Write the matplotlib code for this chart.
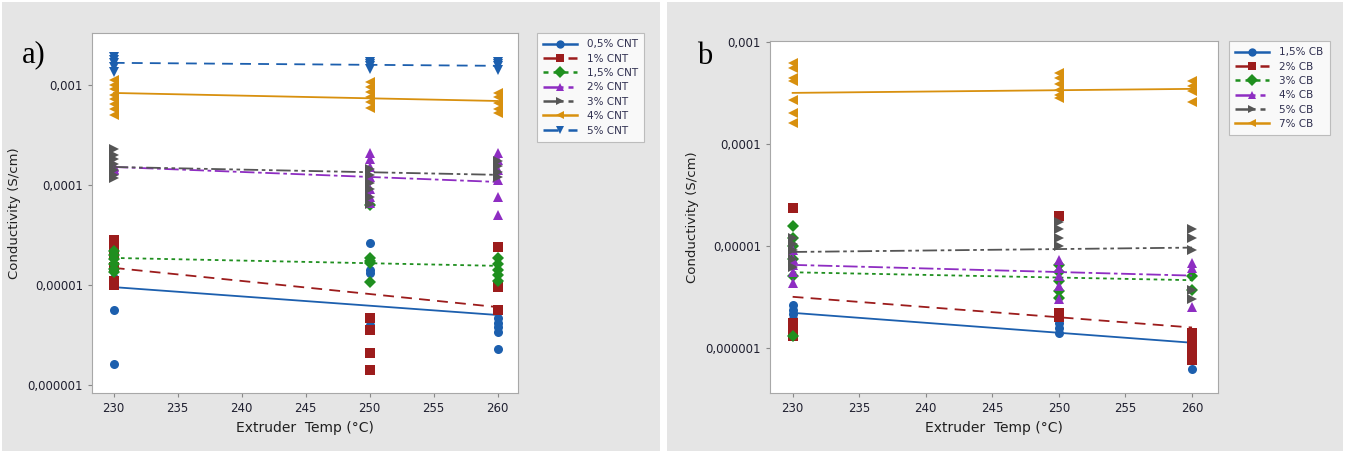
import matplotlib
matplotlib.use("Agg")
from matplotlib import pyplot as plt
from matplotlib.lines import Line2D
from matplotlib.patches import Rectangle
from matplotlib.ticker import FixedLocator, FixedFormatter

temps = [230, 250, 260]
xticks = [230, 235, 240, 245, 250, 255, 260]
yticks = [1e-6, 1e-5, 1e-4, 1e-3]
ytick_labels = ["0,000001", "0,00001", "0,0001", "0,001"]

# panel a: CNT, points per temperature (230, 250, 260) and fit line ends
cnt_labels = ["0,5% CNT", "1% CNT", "1,5% CNT", "2% CNT", "3% CNT", "4% CNT", "5% CNT"]
cnt_05 = [[1.4e-5, 1.17e-5, 1.0e-5, 5.6e-6, 1.6e-6], [2.6e-5, 1.4e-5, 1.3e-5, 4.0e-6],
          [4.7e-6, 4.2e-6, 3.8e-6, 3.4e-6, 2.3e-6]]
cnt_1 = [[2.8e-5, 2.4e-5, 2.0e-5, 1.5e-5, 1.1e-5, 1.0e-5], [4.7e-6, 3.5e-6, 2.1e-6, 1.4e-6],
         [2.4e-5, 9.5e-6, 5.6e-6]]
cnt_15 = [[2.2e-5, 2.0e-5, 1.8e-5, 1.6e-5, 1.45e-5, 1.35e-5], [6.3e-5, 1.85e-5, 1.75e-5, 1.65e-5, 1.07e-5],
          [1.85e-5, 1.6e-5, 1.4e-5, 1.25e-5, 1.1e-5]]
cnt_2 = [[1.55e-4, 1.5e-4, 1.45e-4, 1.4e-4], [2.1e-4, 1.8e-4, 1.5e-4, 1.2e-4, 9e-5, 7.5e-5, 6.6e-5],
         [2.1e-4, 1.78e-4, 1.41e-4, 1.12e-4, 7.6e-5, 5.0e-5]]
cnt_3 = [[2.3e-4, 2.0e-4, 1.8e-4, 1.6e-4, 1.4e-4, 1.25e-4, 1.17e-4], [1.45e-4, 1.25e-4, 1.05e-4, 9e-5, 7.5e-5, 6.5e-5],
         [1.75e-4, 1.55e-4, 1.35e-4, 1.2e-4]]
cnt_4 = [[1.12e-3, 1.0e-3, 9.0e-4, 8.0e-4, 7.2e-4, 6.5e-4, 5.8e-4, 5.0e-4],
         [1.07e-3, 9.5e-4, 8.5e-4, 7.5e-4, 6.7e-4, 5.9e-4], [8.3e-4, 7.5e-4, 6.6e-4, 5.8e-4, 5.2e-4]]
cnt_5 = [[1.91e-3, 1.78e-3, 1.66e-3, 1.51e-3, 1.35e-3], [1.70e-3, 1.62e-3, 1.55e-3, 1.45e-3],
         [1.70e-3, 1.62e-3, 1.55e-3, 1.42e-3]]
cnt_fit = [(9.5e-6, 5.0e-6), (1.48e-5, 6.0e-6), (1.86e-5, 1.55e-5), (1.51e-4, 1.07e-4),
           (1.51e-4, 1.26e-4), (8.3e-4, 6.9e-4), (1.66e-3, 1.55e-3)]

# panel b: CB
cb_labels = ["1,5% CB", "2% CB", "3% CB", "4% CB", "5% CB", "7% CB"]
cb_15 = [[2.6e-6, 2.35e-6, 2.15e-6, 1.9e-6], [1.75e-6, 1.55e-6, 1.4e-6], [1.2e-6, 1.0e-6, 8.5e-7, 6.2e-7]]
cb_2 = [[2.35e-5, 1.75e-6, 1.5e-6, 1.3e-6], [1.97e-5, 2.2e-6, 2.0e-6], [1.4e-6, 1.2e-6, 1.0e-6, 9e-7, 7.6e-7]]
cb_3 = [[1.58e-5, 1.2e-5, 1.0e-5, 7.5e-6, 5.0e-6, 1.3e-6], [6.5e-6, 5.5e-6, 4.5e-6, 3.6e-6, 3.1e-6],
        [5.0e-6, 3.7e-6]]
cb_4 = [[9e-6, 7.5e-6, 6.5e-6, 5.5e-6, 4.3e-6], [7.3e-6, 6e-6, 5e-6, 4e-6, 3e-6], [6.8e-6, 6.0e-6, 2.5e-6]]
cb_5 = [[1.2e-5, 1.05e-5, 9e-6, 7.5e-6, 6.2e-6], [1.7e-5, 1.45e-5, 1.2e-5, 1.0e-5],
        [1.45e-5, 1.2e-5, 9e-6, 3.7e-6, 3.0e-6]]
cb_7 = [[6.2e-4, 5.6e-4, 4.4e-4, 4.1e-4, 2.7e-4, 2.0e-4, 1.6e-4], [4.9e-4, 4.4e-4, 3.9e-4, 3.4e-4, 3.0e-4, 2.8e-4],
        [4.1e-4, 3.7e-4, 3.3e-4, 2.6e-4]]
cb_fit = [(2.2e-6, 1.12e-6), (3.16e-6, 1.58e-6), (5.5e-6, 4.6e-6), (6.5e-6, 5.1e-6),
          (8.7e-6, 9.6e-6), (3.16e-4, 3.46e-4)]

blue = "#1c5fae"
red = "#9c1c1c"
green = "#1f8f1f"
purple = "#8e2dc2"
grey = "#555555"
orange = "#d8900e"

cnt_styles = [(blue, "o", "-"), (red, "s", (0, (6, 4))), (green, "D", (0, (2, 2))),
              (purple, "^", (0, (8, 2, 2, 2))), (grey, ">", (0, (8, 2, 2, 2, 2, 2))),
              (orange, "<", "-"), (blue, "v", (0, (6, 4)))]
cb_styles = cnt_styles[:6]

W, H = 1345, 453
fig = plt.figure(figsize=(W / 100, H / 100), dpi=100)
fig.patch.set_facecolor("white")
fig.add_artist(Rectangle((2 / W, 2 / H), 658 / W, 449 / H, transform=fig.transFigure,
                         facecolor="#e5e5e5", edgecolor="none", zorder=-10))
fig.add_artist(Rectangle((667 / W, 2 / H), 676 / W, 449 / H, transform=fig.transFigure,
                         facecolor="#e5e5e5", edgecolor="none", zorder=-10))


def draw_panel(ax, series, fits, styles, labels, xlim, ylim, leg_xy):
    for pts, fit, (c, m, ls) in zip(series, fits, styles):
        for t, vals in zip(temps, pts):
            ax.plot([t] * len(vals), vals, linestyle="none", marker=m, color=c,
                    markersize=6.5, markeredgewidth=0)
        ax.plot([temps[0], temps[-1]], fit, color=c, linestyle=ls, linewidth=1.3)
    ax.set_yscale("log")
    ax.set_xlim(*xlim)
    ax.set_ylim(*ylim)
    ax.xaxis.set_major_locator(FixedLocator(xticks))
    ax.yaxis.set_major_locator(FixedLocator(yticks))
    ax.yaxis.set_major_formatter(FixedFormatter(ytick_labels))
    ax.yaxis.set_minor_locator(FixedLocator([]))
    ax.tick_params(labelsize=8.5, colors="#888888", labelcolor="#202030", length=3)
    for s in ax.spines.values():
        s.set_color("#a8a8a8")
    ax.set_xlabel("Extruder  Temp (°C)", fontsize=10, color="#202020", labelpad=4)
    ax.set_ylabel("Conductivity (S/cm)", fontsize=9.5, color="#202020", labelpad=5)
    handles = [Line2D([], [], color=c, marker=m, linestyle=ls, linewidth=1.8, markersize=6,
                      markeredgewidth=0) for c, m, ls in styles]
    leg = ax.legend(handles, labels, loc="upper left", bbox_to_anchor=leg_xy,
                    bbox_transform=fig.transFigure, fontsize=7.5, frameon=True, fancybox=False,
                    edgecolor="#b0b0b0", handlelength=3.2, labelspacing=0.42, borderpad=0.6,
                    handletextpad=1.0, borderaxespad=0)
    leg.get_frame().set_linewidth(0.8)
    for txt in leg.get_texts():
        txt.set_color("#303050")


ax1 = fig.add_axes([92 / W, 1 - 393 / H, 426 / W, 360 / H])
draw_panel(ax1, [cnt_05, cnt_1, cnt_15, cnt_2, cnt_3, cnt_4, cnt_5], cnt_fit, cnt_styles,
           cnt_labels, (228.3, 261.6), (8.3e-7, 3.3e-3), (537 / W, 1 - 33 / H))

ax2 = fig.add_axes([770 / W, 1 - 393 / H, 448 / W, 352 / H])
draw_panel(ax2, [cb_15, cb_2, cb_3, cb_4, cb_5, cb_7], cb_fit, cb_styles,
           cb_labels, (228.3, 261.95), (3.6e-7, 1.02e-3), (1229 / W, 1 - 41 / H))

fig.text(22 / W, 1 - 40 / H, "a)", family="Liberation Serif", fontsize=22, va="top", ha="left")
fig.text(697 / W, 1 - 42 / H, "b", family="Liberation Serif", fontsize=22, va="top", ha="left")

fig.savefig("out.png", dpi=100, facecolor=fig.get_facecolor())
